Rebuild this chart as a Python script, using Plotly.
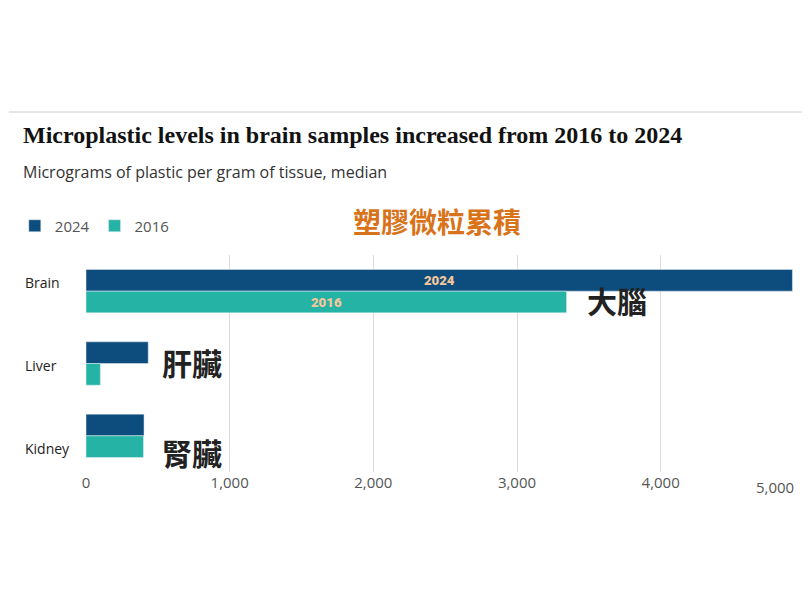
import plotly.graph_objects as go

organs = ["Brain", "Liver", "Kidney"]
v2024 = [4917, 433, 404]
v2016 = [3345, 100, 400]
bar_text_2024 = ["2024", "", ""]
bar_text_2016 = ["2016", "", ""]

OFF = 8
W, H = 810 - 2 * OFF, 616 - 2 * OFF
L, R, T, B = 78 - OFF, 810 - 795 - OFF, 255 - OFF, 616 - 472 - OFF
pw, ph = W - L - R, H - T - B
px = lambda x: (x - OFF - L) / pw
py = lambda y: (H - B - (y - OFF)) / ph

fig = go.Figure()
fig.add_bar(y=organs, x=v2024, orientation="h", name="2024", marker_color="#0c4d7d",
            text=bar_text_2024, textposition="inside", insidetextanchor="middle",
            textfont=dict(color="#f4c69c", size=16, family="Roboto Black, Roboto"))
fig.add_bar(y=organs, x=v2016, orientation="h", name="2016", marker_color="#25b3a5",
            text=bar_text_2016, textposition="inside", insidetextanchor="middle",
            textfont=dict(color="#f4c69c", size=16, family="Roboto Black, Roboto"))

ann = [
    dict(x=px(12), y=py(135), text="<b>Microplastic levels in brain samples increased from 2016 to 2024</b>",
         font=dict(family="Liberation Serif", size=24, color="#121212"), xanchor="left"),
    dict(x=px(12), y=py(172), text="Micrograms of plastic per gram of tissue, median",
         font=dict(family="Open Sans", size=16, color="#333"), xanchor="left"),
    dict(x=px(433), y=py(221), text="<b>塑膠微粒累積</b>",
         font=dict(family="Noto Sans CJK TC", size=28, color="#d9731a"), xanchor="center"),
    dict(x=px(615), y=py(300), text="<b>大腦</b>",
         font=dict(family="Noto Sans CJK TC", size=30, color="#222"), xanchor="center"),
    dict(x=px(185), y=py(362), text="<b>肝臟</b>",
         font=dict(family="Noto Sans CJK TC", size=30, color="#222"), xanchor="center"),
    dict(x=px(185), y=py(452), text="<b>腎臟</b>",
         font=dict(family="Noto Sans CJK TC", size=30, color="#222"), xanchor="center"),
    dict(x=px(775), y=py(487), text="5,000",
         font=dict(family="Open Sans", size=15, color="#555"), xanchor="center"),
]
for name, yy in zip(organs, [282, 365, 448]):
    ann.append(dict(x=px(14), y=py(yy), text=name, xanchor="left",
                    font=dict(family="Open Sans", size=14, color="#222")))
for a in ann:
    a.update(xref="paper", yref="paper", showarrow=False, yanchor="middle")

fig.update_layout(
    width=W, height=H, margin=dict(l=L, r=R, t=T, b=B),
    paper_bgcolor="white", plot_bgcolor="white",
    barmode="group", bargap=0.4, bargroupgap=0,
    showlegend=True,
    legend=dict(orientation="h", x=px(6), y=py(226), yanchor="middle", xanchor="left",
                font=dict(family="Open Sans", size=15, color="#555"), itemwidth=30),
    annotations=ann,
    shapes=[dict(type="line", xref="paper", yref="paper", x0=px(0), x1=px(810),
                 y0=py(112), y1=py(112), line=dict(color="#ccc", width=1))],
    xaxis=dict(range=[0, 4935], tickvals=[0, 1000, 2000, 3000, 4000],
               ticktext=["0", "1,000", "2,000", "3,000", "4,000"],
               showgrid=True, gridcolor="#dcdcdc", zeroline=False, ticklen=0,
               tickfont=dict(family="Open Sans", size=15, color="#555")),
    yaxis=dict(autorange="reversed", showticklabels=False, showgrid=False),
)
fig.write_html("out.html")
